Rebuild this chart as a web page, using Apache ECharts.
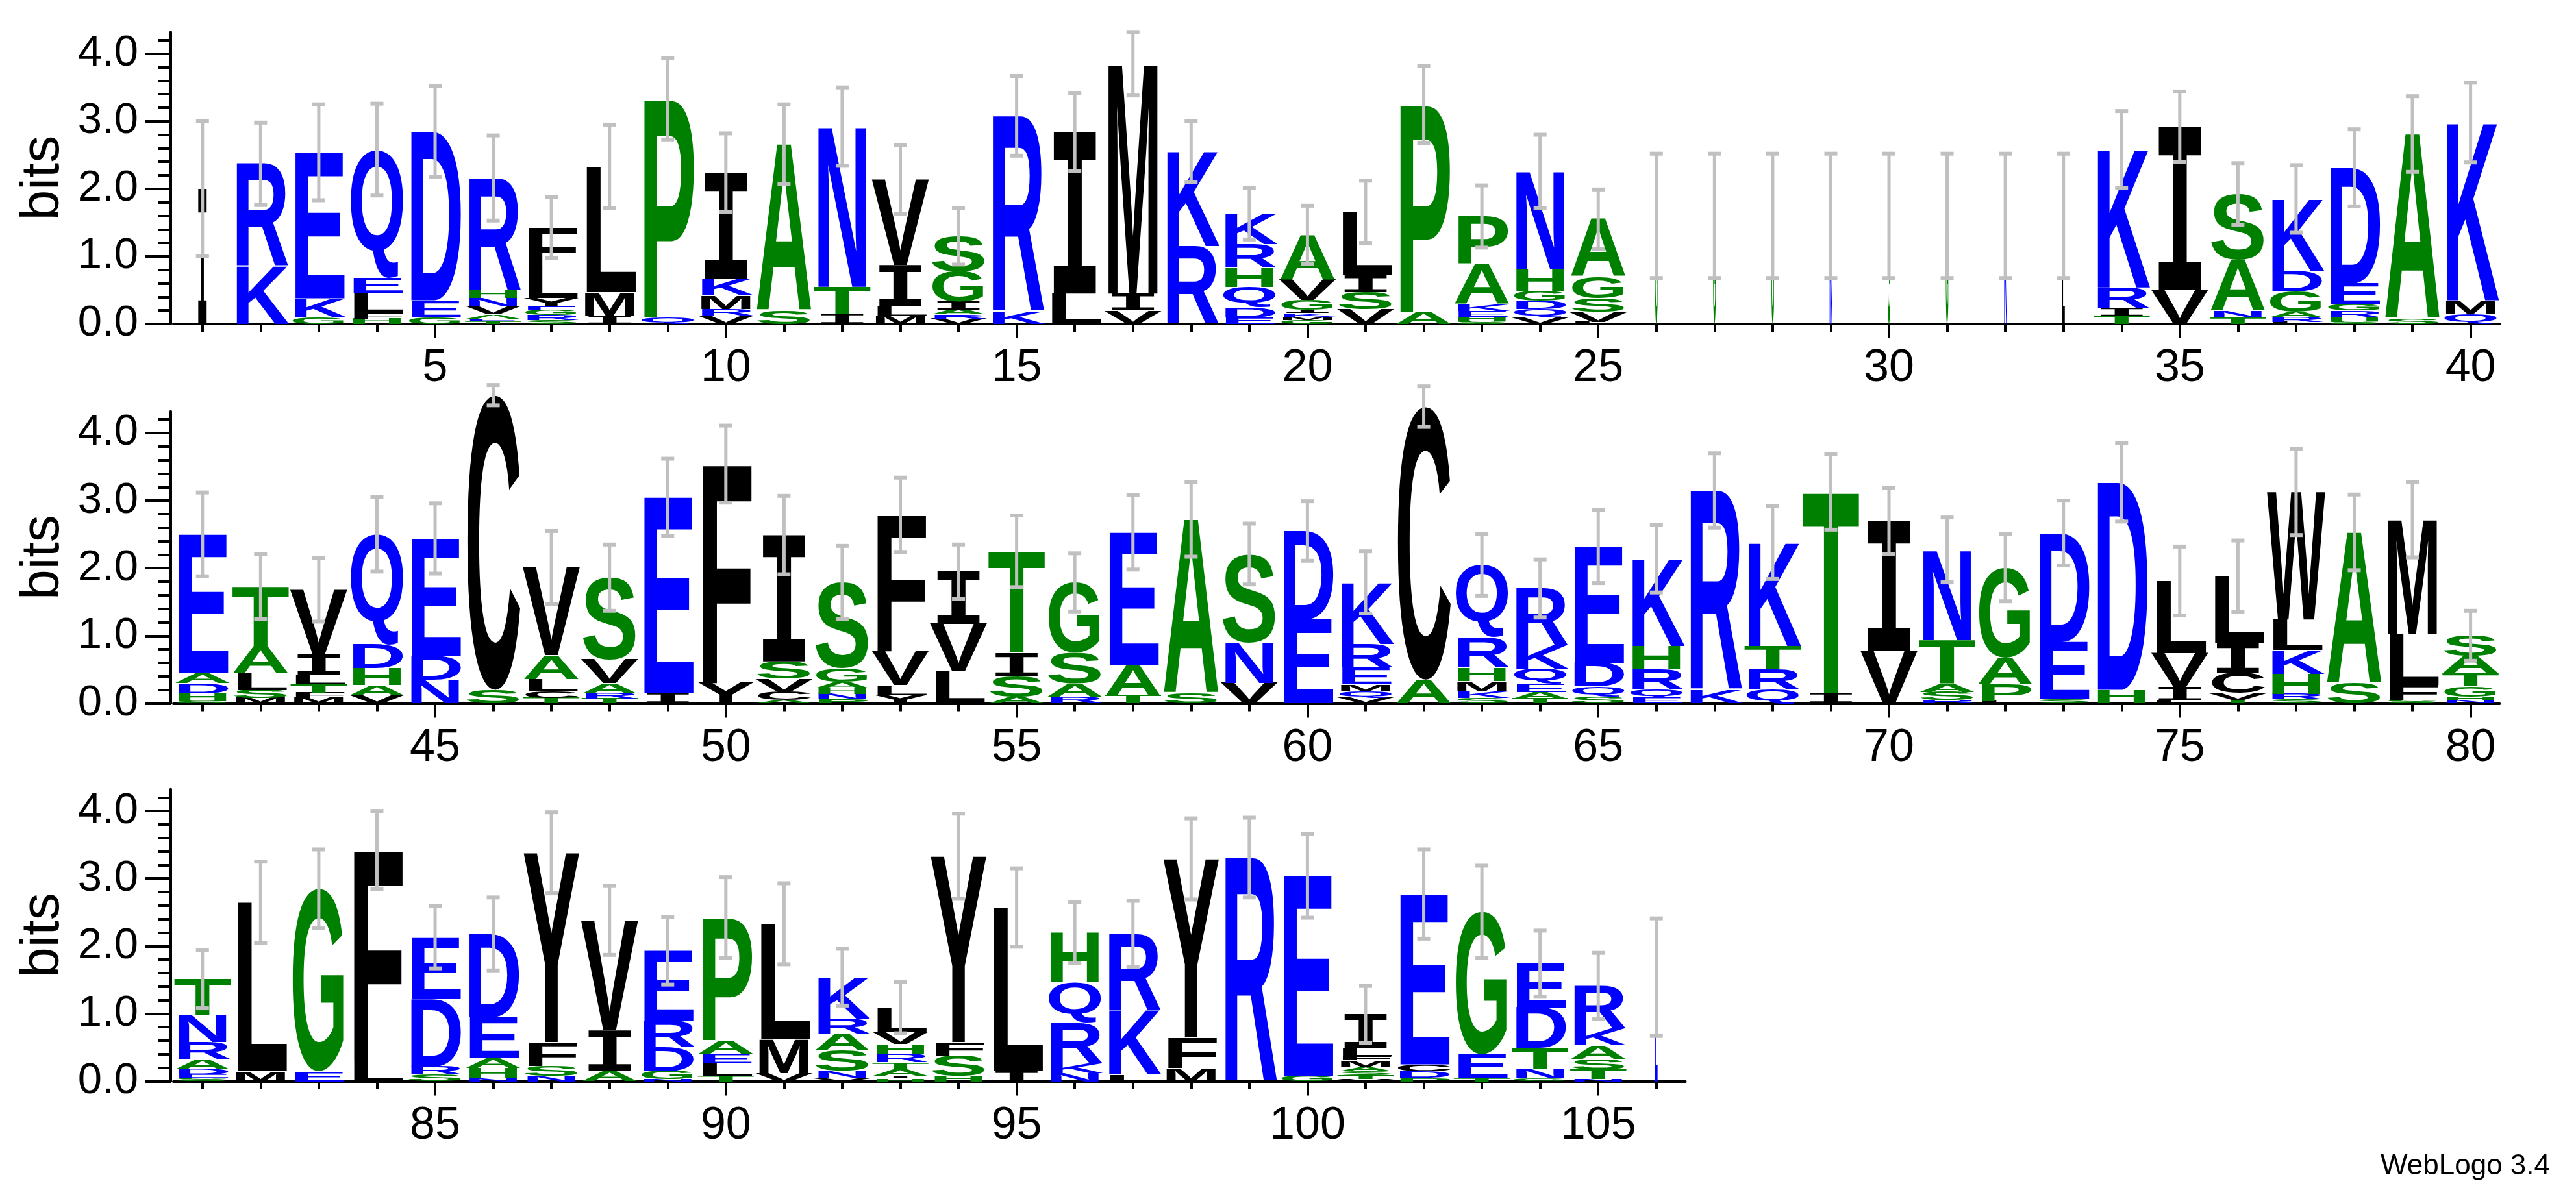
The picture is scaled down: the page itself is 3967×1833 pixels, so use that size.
<!DOCTYPE html>
<html><head><meta charset="utf-8">
<script src="https://cdn.jsdelivr.net/npm/echarts@6/dist/echarts.min.js"></script>
<style>html,body{margin:0;padding:0;background:#fff}#c{width:3967px;height:1833px}</style>
</head><body><div id="c"></div>
<script>
// Stacks: letters bottom -> top, with height in bits
const row1Positions = [1, 40];
const row1Stacks = ["I2.0","K.85 R1.52","G.1 K.28 E2.16","H.08 F.08 L.3 E.22 Q1.9","G.1 E.25 D2.5",
"T.04 E.04 A.06 V.12 N.12 H.12 R1.66","S.06 R.07 G.07 E.06 Y.12 L.45 F.6","I.12 M.35 L1.86","Q.1 P3.23","V.12 R.1 M.2 K.25 I1.57",
"S.2 A2.46","I.15 T.4 N2.37","M.12 L.15 I.6 V1.27","V.08 R.06 A.07 I.12 G.45 S.52","K.18 R2.9",
"L.45 I2.39","V.2 I.25 M3.4","R1.15 K1.4","E.1 D.15 Q.3 H.28 R.35 K.45","G.06 M.05 K.05 I.05 G.15 V.3 A.66",
"V.22 S.25 I.25 L.94","A.18 P3.07","S.05 H.06 E.08 K.1 A.6 P.7","V.1 Q.12 D.12 G.15 H.32 N1.45","L.03 V.15 S.2 G.32 A.85",
"G1.6","G1.6","G1.6","K1.6","G1.6","G1.6","K1.6","L1.6",
"T.12 I.12 R.3 K2.04","V.5 I2.42","T.1 N.1 A.75 S.97","L.03 R.07 A.08 G.3 D.3 K1.07","S.05 H.05 R.1 G.1 E.3 D1.71","S.08 A2.73","Q.15 M.2 K2.63"];
const row1Err = [1.0,.61,.71,.68,.67,.63,.45,.62,.6,.58,.59,.58,.51,.42,.59,.58,.47,.45,.38,.43,.46,.57,.46,.54,.44,.92,.92,.92,.92,.92,.92,.92,.92,.57,.52,.46,.5,.57,.56,.59];

const row2Positions = [41, 80];
const row2Stacks = ["S.03 H.12 D.15 A.15 E2.05","M.08 S.12 L.25 A.4 T.88","M.08 F.08 T.12 L.15 I.3 V.95","V.12 A.15 H.25 D.35 Q1.63","N.35 D.35 E1.74",
"S.2 C4.36","T.08 C.1 L.18 A.35 V1.3","T.07 R.08 A.15 V.35 S1.21","I.15 E2.9","Y.3 F3.24",
"A.05 C.12 V.2 S.25 I1.87","P.06 N.08 H.08 A.1 G.2 S1.27","Y.12 L.15 V.5 F2.02","L.47 V.71 I.77","A.1 S.3 I.35 T1.5",
"R.1 A.2 S.45 G1.04","T.12 A.45 E1.96","S.15 A2.57","V.3 N.6 S1.31","E1.24 D1.31",
"V.08 Q.1 M.1 E.25 R.35 K.91","A.35 C4.04","S.08 K.1 M.15 H.2 R.45 Q1.07","T.07 A.1 E.12 Q.22 K.35 R.84","S.1 Q.15 D.35 E1.72",
"E.08 Q.12 R.3 H.35 K1.29","K.2 R2.95","Q.2 R.3 T.35 K1.53","I.15 T2.98","V.78 I1.92",
"R.05 S.12 A.12 T.65 N1.33","L.03 P.25 A.4 G1.33","S.06 E.85 D1.61","H.2 D3.07","L.04 I.2 V.5 L1.07",
"T.05 V.1 C.3 I.45 L.98","S.06 R.08 H.3 K.35 L.45 W1.89","S.3 A2.23","S.05 F.22 L.75 M1.7","N.05 H.05 G.15 T.2 A.25 S.3"];
const row2Err = [.62,.48,.47,.55,.52,.15,.54,.49,.57,.57,.58,.54,.55,.4,.53,.43,.55,.55,.45,.44,.46,.3,.46,.43,.54,.5,.55,.54,.56,.49,.48,.5,.48,.58,.51,.53,.64,.56,.56,.37];

const row3Positions = [81, 106];
const row3Stacks = ["S.05 E.05 D.08 A.15 R.25 N.4 T.53","M.15 L2.5","E.15 G2.7","L.3 F3.12","S.1 R.12 D1.0 E.91",
"N.05 H.15 A.15 E.6 D1.23","N.08 S.15 F.35 Y2.8","A.15 I.6 V1.63","N.03 G.12 D.35 R.4 E1.03","T.08 L.18 E.15 A.2 P1.81",
"V.12 M.5 L1.71","V.05 N.1 S.3 A.25 R.22 K.62","H.04 I.04 A.1 T.1 R.12 H.15 V.18 L.36","H.08 S.3 F.2 Y2.75","I.15 L2.42",
"N.12 K.15 R.6 Q.6 H.73","L.1 K.95 R1.13","M.2 F.45 Y2.64","R3.31","G.08 E2.96",
"V.03 T.06 S.06 A.06 M.1 F.06 L.12 I.5","P.05 D.1 C.1 E2.52","T.05 E.35 G2.11","G.04 N.15 T.3 D.6 E.65","N.03 T.15 S.15 A.2 K.25 R.63","E1.54"];
const row3Err = [.43,.6,.58,.58,.46,.54,.6,.51,.5,.6,.6,.42,.38,.63,.58,.45,.49,.6,.59,.62,.42,.66,.68,.49,.49,.87];

// column width fraction (gappy columns)
const narrowColumns = {1:0.2,26:0.05,27:0.05,28:0.05,29:0.05,30:0.05,31:0.05,32:0.05,33:0.05,106:0.05};
const yTickLabels = [0,1,2,3,4];

const BLUE='#0000ff', GREEN='#008000', BLACK='#000000';
const colorOf = ch => ('DEKRNQ'.includes(ch) ? BLUE : ('AGPSTH'.includes(ch) ? GREEN : BLACK));
const SANS='"Liberation Sans", Arial, sans-serif', MONO='"DejaVu Sans Mono", monospace';
const NARROW='"Liberation Sans Narrow", "Liberation Sans", sans-serif';

function parse(s){ return s.trim().split(/\s+/).map(t=>({ch:t[0], h:parseFloat(t.slice(1))})); }

const cv=document.createElement('canvas').getContext('2d');
const mcache={};
function metrics(ch){
  if(mcache[ch]) return mcache[ch];
  const font='bold 200px '+(ch==='I'?MONO:SANS);
  cv.font=font; cv.textBaseline='middle';
  const m=cv.measureText(ch);
  return mcache[ch]={font, w:m.width, a:m.actualBoundingBoxAscent, d:m.actualBoundingBoxDescent};
}

const rows=[
  {pos:row1Positions, stacks:row1Stacks.map(parse), err:row1Err, top:49.3},
  {pos:row2Positions, stacks:row2Stacks.map(parse), err:row2Err, top:633.7},
  {pos:row3Positions, stacks:row3Stacks.map(parse), err:row3Err, top:1215.8}
];
const SP=89.56, PLOTH=449.7, LEFT=267;

const grid=[], xAxis=[], yAxis=[], series=[];
rows.forEach((r,i)=>{
  const p0=r.pos[0], p1=r.pos[1], n=p1-p0+1;
  grid.push({left:LEFT, top:r.top, width:n*SP, height:PLOTH, containLabel:false});
  const ints=[], fives=[];
  for(let p=p0;p<=p1;p++){ints.push(p); if(p%5===0) fives.push(p);}
  const axLine={show:true, onZero:false, lineStyle:{color:'#000', width:4}};
  xAxis.push({type:'value', gridIndex:i, position:'bottom', min:p0-0.5, max:p1+0.5, axisLine:axLine,
    axisTick:{show:true, customValues:ints, length:12, lineStyle:{color:'#000',width:4}},
    axisLabel:{show:false}, splitLine:{show:false}});
  xAxis.push({type:'value', gridIndex:i, position:'bottom', min:p0-0.5, max:p1+0.5, axisLine:{show:false, onZero:false},
    axisTick:{show:true, customValues:fives, length:22, lineStyle:{color:'#000',width:4}},
    axisLabel:{show:true, customValues:fives, fontSize:70, fontFamily:NARROW, color:'#000', margin:34},
    splitLine:{show:false}});
  const minors=[]; for(let k=1;k<=21;k++){ if(k%5) minors.push(+(k*0.2).toFixed(1)); }
  yAxis.push({type:'value', gridIndex:i, position:'left', min:0, max:4.32, offset:4,
    axisLine:{show:true, onZero:false, lineStyle:{color:'#000',width:4}},
    axisTick:{show:true, customValues:yTickLabels, length:40, lineStyle:{color:'#000',width:4}},
    axisLabel:{show:true, customValues:yTickLabels, formatter:v=>Number(v).toFixed(1), fontSize:67, fontFamily:NARROW, color:'#000', margin:50},
    splitLine:{show:false},
    name:'bits', nameLocation:'middle', nameRotate:90, nameGap:150,
    nameTextStyle:{fontSize:84, fontFamily:SANS, color:'#000'}});
  yAxis.push({type:'value', gridIndex:i, position:'left', min:0, max:4.32, offset:4, axisLine:{show:false, onZero:false},
    axisTick:{show:true, customValues:minors, length:19, lineStyle:{color:'#000',width:4}},
    axisLabel:{show:false}, splitLine:{show:false}});
  const data=[]; for(let p=p0;p<=p1;p++) data.push([p]);
  series.push({type:'custom', xAxisIndex:2*i, yAxisIndex:2*i, data, clip:false, silent:true,
    renderItem:(params,api)=>{
      const p=api.value(0), k=p-p0;
      const stack=r.stacks[k];
      const base=api.coord([p,0]);
      const sz=api.size([1,1]);
      const colW=sz[0]*(narrowColumns[p]||1), ppb=sz[1];
      const children=[];
      let acc=0;
      stack.forEach(({ch,h})=>{
        const hp=h*ppb;
        const yBot=base[1]-acc*ppb;
        acc+=h;
        if(hp<0.5) return;
        const m=metrics(ch);
        const sy=hp/(m.a+m.d), sx=colW/m.w;
        children.push({type:'text', x:base[0], y:yBot-m.d*sy, scaleX:sx, scaleY:sy,
          style:{text:ch, font:m.font, fill:colorOf(ch), align:'center', verticalAlign:'middle', textAlign:'center', textVerticalAlign:'middle'}});
      });
      const e=r.err[k];
      const yTop=api.coord([p,acc+e])[1], yLo=api.coord([p,Math.max(0,acc-e)])[1];
      const st={stroke:'#c0c0c0', lineWidth:5};
      children.push({type:'line', shape:{x1:base[0],y1:yTop,x2:base[0],y2:yLo}, style:st});
      children.push({type:'line', shape:{x1:base[0]-10,y1:yTop,x2:base[0]+10,y2:yTop}, style:{stroke:'#c0c0c0',lineWidth:6}});
      children.push({type:'line', shape:{x1:base[0]-10,y1:yLo,x2:base[0]+10,y2:yLo}, style:{stroke:'#c0c0c0',lineWidth:6}});
      return {type:'group', children};
    }});
});

const chart=echarts.init(document.getElementById('c'));
chart.setOption({
  backgroundColor:'#fff', animation:false,
  grid, xAxis, yAxis, series,
  graphic:[{type:'text', right:40, bottom:14, style:{text:'WebLogo 3.4', font:'44px '+SANS, fill:'#000'}}]
});
</script></body></html>
